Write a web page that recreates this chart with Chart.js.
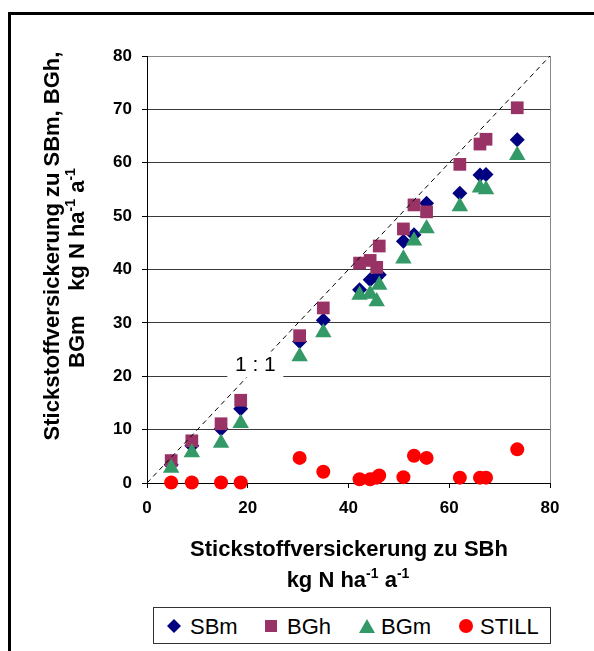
<!DOCTYPE html>
<html>
<head>
<meta charset="utf-8">
<script src="https://cdn.jsdelivr.net/npm/chart.js@4"></script>
<style>
    html, body { margin: 0; padding: 0; background: #fff; }
    #wrap { position: relative; width: 594px; height: 651px; overflow: hidden; font-family: 'Liberation Sans', Arial, sans-serif; }
    #frame { position: absolute; left: 8px; top: 12px; width: 700px; height: 700px; border-left: 3px solid #000; border-top: 3px solid #000; }
    canvas { position: absolute; left: 0; top: 0; }
    .t { position: absolute; transform: translate(-50%, -50%); white-space: pre; line-height: 1; color: #000; }
    .b { font-weight: bold; font-size: 22px; }
    .rot { transform: translate(-50%, -50%) rotate(-90deg); }
    sup { font-size: 14px; vertical-align: 0; position: relative; top: -9px; }
    #legend { position: absolute; left: 153px; top: 607px; width: 396px; height: 35px; border: 1px solid #333; background: #fff; }
    .lt { position: absolute; top: 8px; font-size: 22px; line-height: 1; }
    .lm { position: absolute; }
</style>
</head>
<body>
<div id="wrap">
    <div id="frame"></div>
    <canvas id="chart" width="594" height="651"></canvas>

    <!-- axis titles -->
    <div class="t b" style="left:349px; top:549px;">Stickstoffversickerung zu SBh</div>
    <div class="t b" style="left:348px; top:580px;">kg N ha<sup>-1</sup> a<sup>-1</sup></div>
    <div class="t b rot" style="left:52px; top:246px;">Stickstoffversickerung zu SBm, BGh,</div>
    <div class="t b rot" style="left:77px; top:268px;">BGm    kg N ha<sup>-1</sup> a<sup>-1</sup></div>

    <div id="legend">
        <svg class="lm" style="left:12px; top:10px;" width="16" height="16"><polygon points="8,1 15,8 8,15 1,8" fill="#000080"/></svg>
        <span class="lt" style="left:36px;">SBm</span>
        <svg class="lm" style="left:111px; top:12px;" width="13" height="13"><rect x="0" y="0" width="12" height="12" fill="#993366"/></svg>
        <span class="lt" style="left:133px;">BGh</span>
        <svg class="lm" style="left:204px; top:10px;" width="18" height="16"><polygon points="9,1 17,15 1,15" fill="#339966"/></svg>
        <span class="lt" style="left:227px;">BGm</span>
        <svg class="lm" style="left:304px; top:10px;" width="16" height="16"><circle cx="8" cy="8" r="7" fill="#ff0000"/></svg>
        <span class="lt" style="left:326px;">STILL</span>
    </div>
</div>

<script>
    'use strict';

    // --- Data ---
    // x: Stickstoffversickerung zu SBh (kg N / ha / a)
    const sbh   = [4.8, 8.9, 14.7, 18.6, 30.3, 35.0, 42.2, 44.3, 45.6, 46.1, 50.9, 53.0, 55.5, 62.1, 66.1, 67.3, 73.5];
    const sbm   = [3.4, 7.0, 10.1, 13.9, 26.5, 30.5, 36.2, 38.1, 38.6, 39.0, 45.3, 46.5, 52.4, 54.3, 57.7, 57.8, 64.3];
    const bgh   = [4.2, 7.9, 11.1, 15.5, 27.6, 32.8, 41.2, 41.7, 40.4, 44.4, 47.6, 52.1, 50.8, 59.7, 63.5, 64.4, 70.3];
    const bgm   = [2.8, 5.7, 7.5, 11.2, 23.7, 28.2, 35.2, 35.4, 34.0, 37.1, 42.0, 45.4, 47.7, 51.8, 55.3, 55.0, 61.4];
    const still = [0.1, 0.1, 0.1, 0.1, 4.7, 2.1, 0.7, 0.7, 1.0, 1.4, 1.1, 5.1, 4.7, 1.0, 1.0, 1.0, 6.3];

    const oneToOne = [0, 80];       // ends of the 1 : 1 line
    const labelPos = [21.5, 22.2];  // where the "1 : 1" label sits (data units)

    const FONT = "'Liberation Sans', Arial, sans-serif";

    const toPoints = (ys) => sbh.map((x, i) => ({ x: x, y: ys[i] }));

    // Draws the gray plot frame and the "1 : 1" label box
    const extrasPlugin = {
        id: 'extras',
        afterDatasetsDraw: (chart) => {
            const ctx = chart.ctx;
            const area = chart.chartArea;
            const xs = chart.scales.x;
            const ys = chart.scales.y;

            ctx.save();
            ctx.strokeStyle = '#888';
            ctx.lineWidth = 1;
            ctx.beginPath();
            ctx.moveTo(Math.round(area.right) + 0.5, area.top);
            ctx.lineTo(Math.round(area.right) + 0.5, area.bottom);
            ctx.stroke();

            // label with a white box behind it
            const cx = xs.getPixelForValue(labelPos[0]);
            const cy = ys.getPixelForValue(labelPos[1]);
            ctx.fillStyle = '#fff';
            ctx.fillRect(cx - 28, cy - 13, 56, 26);
            ctx.fillStyle = '#000';
            ctx.font = '21px ' + FONT;
            ctx.textAlign = 'center';
            ctx.textBaseline = 'middle';
            ctx.fillText('1 : 1', cx, cy + 1);
            ctx.restore();
        }
    };

    const ctx = document.getElementById('chart').getContext('2d');

    new Chart(ctx, {
        type: 'scatter',
        data: {
            datasets: [
                {
                    type: 'line',
                    label: '1:1',
                    data: [{ x: oneToOne[0], y: oneToOne[0] }, { x: oneToOne[1], y: oneToOne[1] }],
                    borderColor: '#000',
                    borderWidth: 1,
                    borderDash: [5, 4],
                    pointRadius: 0,
                    order: 0
                },
                {
                    label: 'SBm',
                    data: toPoints(sbm),
                    pointStyle: 'rectRot',
                    pointRadius: 7.5,
                    backgroundColor: '#000080',
                    borderColor: '#000080',
                    borderWidth: 0,
                    order: 4,
                    clip: false
                },
                {
                    label: 'BGh',
                    data: toPoints(bgh),
                    pointStyle: 'rect',
                    pointRadius: 9,
                    backgroundColor: '#993366',
                    borderColor: '#993366',
                    borderWidth: 0,
                    order: 3,
                    clip: false
                },
                {
                    label: 'BGm',
                    data: toPoints(bgm),
                    pointStyle: 'triangle',
                    pointRadius: 9.5,
                    backgroundColor: '#339966',
                    borderColor: '#339966',
                    borderWidth: 0,
                    order: 2,
                    clip: false
                },
                {
                    label: 'STILL',
                    data: toPoints(still),
                    pointStyle: 'circle',
                    pointRadius: 7,
                    backgroundColor: '#ff0000',
                    borderColor: '#ff0000',
                    borderWidth: 0,
                    order: 1,
                    clip: false
                }
            ]
        },
        options: {
            responsive: false,
            animation: false,
            devicePixelRatio: 1,
            layout: { padding: { left: 0, top: 56, right: 44, bottom: 0 } },
            plugins: {
                legend: { display: false },
                tooltip: { enabled: false }
            },
            scales: {
                x: {
                    type: 'linear',
                    min: 0,
                    max: 80,
                    afterFit: (scale) => { scale.height = 168; },
                    ticks: {
                        stepSize: 20,
                        padding: 10,
                        color: '#000',
                        font: { family: FONT, size: 17, weight: 'bold' }
                    },
                    grid: {
                        drawOnChartArea: false,
                        tickLength: 5,
                        tickColor: '#000'
                    },
                    border: { color: '#000', width: 1 }
                },
                y: {
                    type: 'linear',
                    min: 0,
                    max: 80,
                    afterFit: (scale) => { scale.width = 147; },
                    ticks: {
                        stepSize: 10,
                        padding: 10,
                        color: '#000',
                        font: { family: FONT, size: 17, weight: 'bold' }
                    },
                    grid: {
                        color: (c) => (c.tick && c.tick.value === 80 ? '#888' : '#3a3a3a'),
                        lineWidth: 1,
                        tickLength: 5,
                        tickColor: '#000'
                    },
                    border: { color: '#000', width: 1 }
                }
            }
        },
        plugins: [extrasPlugin]
    });
</script>
</body>
</html>
